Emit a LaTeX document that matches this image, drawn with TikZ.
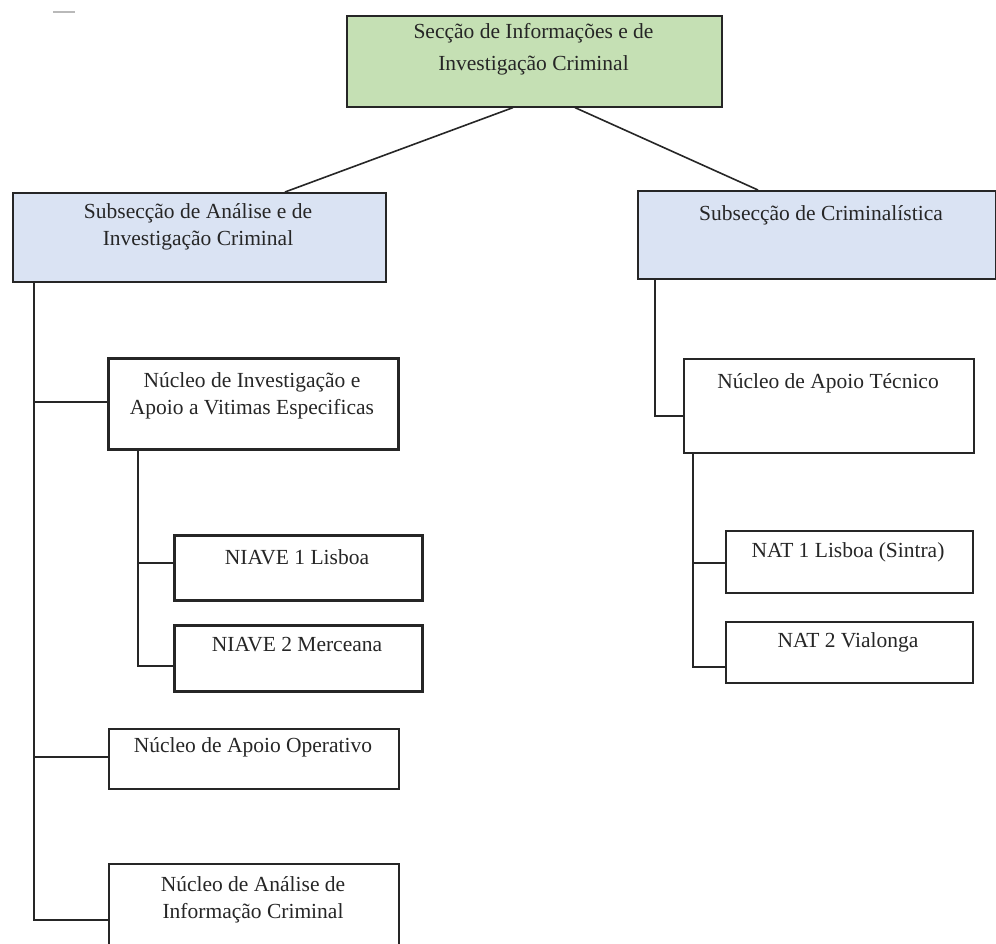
\documentclass[tikz,border=0pt]{standalone}
\usepackage{fontspec}
\setmainfont{Liberation Serif}
\usetikzlibrary{calc}
\definecolor{boxgreen}{HTML}{C5E0B4}
\definecolor{boxblue}{HTML}{DAE3F3}
\definecolor{edge}{HTML}{262626}
\tikzset{
  box/.style={draw=edge, line width=1.6pt, anchor=north west, inner sep=0pt, fill=white},
  thickbox/.style={box, line width=3.2pt},
  lbl/.style={font=\fontsize{21.5}{27}\selectfont, align=center, inner sep=0pt, text=black!85},
  toplbl/.style={lbl, font=\fontsize{21.5}{32}\selectfont},
  conn/.style={draw=edge, line width=1.6pt},
}
\begin{document}
\begin{tikzpicture}[x=1pt,y=-1pt]
\useasboundingbox (0,0) rectangle (996,943);
\fill[white] (0,0) rectangle (996,943);
\draw[gray!55, line width=2pt] (53,12) -- (75,12);

% boxes
\node[box, fill=boxgreen, minimum width=375pt, minimum height=91pt] (sic) at (346,15) {};
\node[box, fill=boxblue, minimum width=373pt, minimum height=89pt] (leftsub) at (12,192) {};
\node[box, fill=boxblue, minimum width=358pt, minimum height=88pt] (rightsub) at (637,190) {};
\node[thickbox, minimum width=290pt, minimum height=91pt] (inv) at (107,357) {};
\node[thickbox, minimum width=248pt, minimum height=65pt] (niave1) at (173,534) {};
\node[thickbox, minimum width=248pt, minimum height=66pt] (niave2) at (173,624) {};
\node[box, minimum width=290pt, minimum height=60pt] (apop) at (108,728) {};
\node[box, minimum width=290pt, minimum height=92pt] (analise) at (108,863) {};
\node[box, minimum width=290pt, minimum height=94pt] (tec) at (683,358) {};
\node[box, minimum width=247pt, minimum height=62pt] (nat1) at (725,530) {};
\node[box, minimum width=247pt, minimum height=61pt] (nat2) at (725,621) {};

% connectors
\draw[conn] ($(sic.south west)+(167,0)$) -- ($(leftsub.north west)+(273,0)$);
\draw[conn] ($(sic.south west)+(229,0)$) -- ($(rightsub.north west)+(121,0)$);

\draw[conn] ($(leftsub.south west)+(22,0)$) |- ($(analise.north west)+(0,57)$);
\draw[conn] ($(leftsub.south west)+(22,0)$) |- ($(inv.north west)+(0,45)$);
\draw[conn] ($(leftsub.south west)+(22,0)$) |- ($(apop.north west)+(0,29)$);
\draw[conn] ($(inv.south west)+(31,0)$) |- ($(niave2.north west)+(0,42)$);
\draw[conn] ($(inv.south west)+(31,0)$) |- ($(niave1.north west)+(0,29)$);

\draw[conn] ($(rightsub.south west)+(18,0)$) |- ($(tec.north west)+(0,58)$);
\draw[conn] ($(tec.south west)+(10,0)$) |- ($(nat2.north west)+(0,46)$);
\draw[conn] ($(tec.south west)+(10,0)$) |- ($(nat1.north west)+(0,33)$);

% labels
\node[toplbl] (sict) at (533.5,49.5) {Secção de Informações e de\\Investigação Criminal};
\node[lbl] (leftsubt) at (198,227) {Subsecção de Análise e de\\Investigação Criminal};
\node[lbl] (rightsubt) at (821,215) {Subsecção de Criminalística};
\node[lbl] (invt) at (252,395.5) {Núcleo de Investigação e\\Apoio a Vitimas Especificas};
\node[lbl] (niave1t) at (297,557) {NIAVE 1 Lisboa};
\node[lbl] (niave2t) at (297,645) {NIAVE 2 Merceana};
\node[lbl] (apopt) at (253,747) {Núcleo de Apoio Operativo};
\node[lbl] (analiset) at (253,899.5) {Núcleo de Análise de\\Informação Criminal};
\node[lbl] (tect) at (828,383) {Núcleo de Apoio Técnico};
\node[lbl] (nat1t) at (848,552) {NAT 1 Lisboa (Sintra)};
\node[lbl] (nat2t) at (848,642) {NAT 2 Vialonga};
\end{tikzpicture}
\end{document}
